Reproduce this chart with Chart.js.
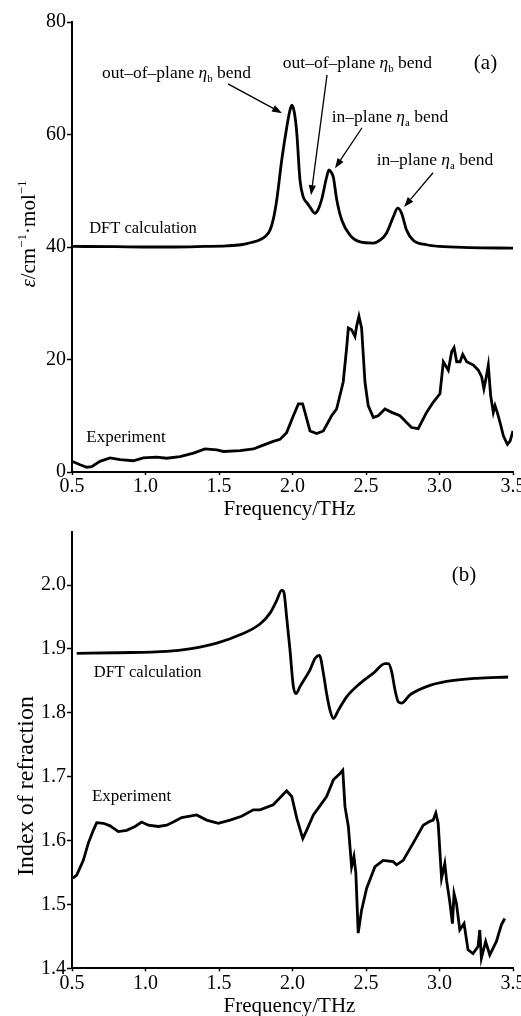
<!DOCTYPE html>
<html>
<head>
<meta charset="utf-8">
<script src="https://cdn.jsdelivr.net/npm/chart.js@4.4.1/dist/chart.umd.min.js"></script>
<style>
  html, body { margin: 0; padding: 0; background: #fff; }
  #wrap { position: relative; width: 521px; height: 1016px; overflow: hidden; }
  #absChart { position: absolute; left: 0; top: 0; }
  #refChart { position: absolute; left: 0; top: 522px; }
</style>
</head>
<body>
<div id="wrap">
  <canvas id="absChart" width="521" height="522"></canvas>
  <canvas id="refChart" width="521" height="494"></canvas>
</div>
<script>
// ---- data ----
// (a) absorption, DFT calculation (offset by +40)
const absDftX = [0.5, 0.8, 1.0, 1.2, 1.4, 1.55, 1.65, 1.72, 1.779, 1.82, 1.847, 1.87, 1.893, 1.927, 1.961, 1.98, 1.995, 2.012, 2.029, 2.051, 2.073, 2.1, 2.119, 2.153, 2.175, 2.198, 2.232, 2.248, 2.263, 2.278, 2.301, 2.335, 2.391, 2.46, 2.55, 2.6, 2.64, 2.685, 2.715, 2.742, 2.776, 2.821, 2.912, 3.0, 3.2, 3.5];
const absDftY = [40.1, 40.05, 40.0, 40.0, 40.1, 40.2, 40.4, 40.8, 41.3, 42.0, 43.0, 45.0, 48.4, 55.5, 61.3, 64.0, 65.2, 64.0, 60.3, 51.9, 48.9, 47.8, 47.1, 46.0, 46.7, 48.4, 52.4, 53.7, 53.3, 52.4, 48.4, 44.8, 42.1, 40.9, 40.7, 41.3, 42.5, 45.3, 46.9, 46.0, 43.0, 41.2, 40.4, 40.1, 39.9, 39.8];
// (a) absorption, experiment
const absExpX = [0.5, 0.555, 0.6, 0.634, 0.69, 0.759, 0.827, 0.917, 0.985, 1.076, 1.144, 1.235, 1.326, 1.405, 1.485, 1.53, 1.643, 1.734, 1.779, 1.869, 1.915, 1.96, 2.006, 2.04, 2.069, 2.085, 2.119, 2.164, 2.21, 2.266, 2.3, 2.345, 2.368, 2.38, 2.402, 2.425, 2.436, 2.452, 2.47, 2.493, 2.515, 2.55, 2.583, 2.629, 2.675, 2.731, 2.776, 2.81, 2.855, 2.912, 2.957, 3.003, 3.026, 3.06, 3.083, 3.099, 3.117, 3.14, 3.158, 3.185, 3.23, 3.264, 3.287, 3.302, 3.316, 3.332, 3.348, 3.366, 3.378, 3.393, 3.412, 3.435, 3.462, 3.48, 3.5];
const absExpY = [1.9, 1.3, 0.85, 0.95, 1.9, 2.5, 2.2, 2.0, 2.5, 2.65, 2.45, 2.75, 3.35, 4.1, 3.95, 3.65, 3.8, 4.1, 4.55, 5.45, 5.8, 7.0, 10.0, 12.1, 12.1, 10.6, 7.3, 6.85, 7.3, 10.0, 11.2, 16.0, 22.0, 25.6, 25.3, 24.1, 25.9, 27.7, 25.6, 16.0, 11.8, 9.7, 10.0, 11.2, 10.6, 10.0, 8.8, 7.9, 7.7, 10.6, 12.4, 13.9, 19.6, 18.1, 21.4, 22.1, 19.6, 19.6, 20.9, 19.6, 19.0, 18.1, 16.9, 14.8, 16.6, 19.0, 13.6, 10.6, 11.8, 10.6, 8.8, 6.4, 4.9, 5.5, 7.3];
// (b) refractive index, DFT calculation
const refDftX = [0.532, 0.8, 1.144, 1.3, 1.485, 1.643, 1.779, 1.847, 1.893, 1.927, 1.942, 1.96, 1.983, 2.006, 2.024, 2.051, 2.085, 2.119, 2.153, 2.183, 2.21, 2.232, 2.255, 2.278, 2.312, 2.368, 2.46, 2.55, 2.629, 2.652, 2.675, 2.697, 2.72, 2.742, 2.799, 2.912, 3.048, 3.252, 3.467];
const refDftY = [1.893, 1.894, 1.896, 1.9, 1.909, 1.922, 1.939, 1.956, 1.976, 1.992, 1.988, 1.95, 1.898, 1.841, 1.83, 1.841, 1.854, 1.867, 1.885, 1.89, 1.862, 1.83, 1.804, 1.791, 1.804, 1.825, 1.846, 1.862, 1.877, 1.877, 1.864, 1.836, 1.817, 1.815, 1.828, 1.841, 1.849, 1.854, 1.856];
// (b) refractive index, experiment
const refExpX = [0.505, 0.532, 0.577, 0.611, 0.645, 0.668, 0.713, 0.759, 0.815, 0.872, 0.929, 0.974, 1.019, 1.087, 1.144, 1.189, 1.246, 1.348, 1.416, 1.495, 1.575, 1.654, 1.733, 1.779, 1.869, 1.96, 1.995, 2.029, 2.07, 2.096, 2.142, 2.232, 2.278, 2.323, 2.342, 2.357, 2.38, 2.402, 2.418, 2.431, 2.447, 2.47, 2.504, 2.561, 2.617, 2.685, 2.708, 2.753, 2.821, 2.889, 2.934, 2.957, 2.975, 2.991, 3.014, 3.036, 3.048, 3.07, 3.088, 3.099, 3.115, 3.138, 3.167, 3.194, 3.228, 3.262, 3.274, 3.285, 3.314, 3.342, 3.387, 3.421, 3.444];
const refExpY = [1.541, 1.546, 1.569, 1.596, 1.616, 1.628, 1.627, 1.623, 1.614, 1.616, 1.622, 1.629, 1.624, 1.622, 1.624, 1.629, 1.636, 1.64, 1.632, 1.627, 1.632, 1.638, 1.648, 1.648, 1.656, 1.678, 1.669, 1.635, 1.603, 1.616, 1.64, 1.669, 1.695, 1.705, 1.71, 1.653, 1.622, 1.559, 1.575, 1.549, 1.455, 1.491, 1.525, 1.559, 1.569, 1.567, 1.562, 1.569, 1.596, 1.624, 1.63, 1.632, 1.643, 1.627, 1.541, 1.564, 1.538, 1.504, 1.47, 1.517, 1.502, 1.46, 1.47, 1.429, 1.423, 1.434, 1.46, 1.416, 1.442, 1.421, 1.442, 1.468, 1.478];

const freqTicks = [0.5, 1.0, 1.5, 2.0, 2.5, 3.0, 3.5];

const FONT = '"Liberation Serif", "Times New Roman", serif';
Chart.defaults.font.family = FONT;
Chart.defaults.color = '#000';

const pts = (xs, ys) => xs.map((x, i) => ({ x, y: ys[i] }));

// rich text: segments {t, it, sub, sup}
function richText(ctx, segs, x, y, size, align) {
  const fontOf = s => (s.it ? 'italic ' : '') + ((s.sub || s.sup) ? size * 0.62 : size) + 'px ' + FONT;
  let w = 0;
  segs.forEach(s => { ctx.font = fontOf(s); w += ctx.measureText(s.t).width; });
  let cx = align === 'center' ? x - w / 2 : x;
  const base = y + size * 0.33;
  ctx.textAlign = 'left';
  ctx.textBaseline = 'alphabetic';
  segs.forEach(s => {
    ctx.font = fontOf(s);
    let dy = 0;
    if (s.sub) dy = size * 0.22;
    if (s.sup) dy = -size * 0.42;
    ctx.fillText(s.t, cx, base + dy);
    cx += ctx.measureText(s.t).width;
  });
}

function arrow(ctx, x1, y1, x2, y2) {
  const a = Math.atan2(y2 - y1, x2 - x1), L = 10, W = 3.6;
  const c = Math.cos(a), s = Math.sin(a);
  ctx.beginPath();
  ctx.moveTo(x1, y1);
  ctx.lineTo(x2 - L * c, y2 - L * s);
  ctx.stroke();
  ctx.beginPath();
  ctx.moveTo(x2, y2);
  ctx.lineTo(x2 - L * c + W * s, y2 - L * s - W * c);
  ctx.lineTo(x2 - L * c - W * s, y2 - L * s + W * c);
  ctx.closePath();
  ctx.fill();
}

const ink = {
  id: 'ink',
  afterDraw(chart, args, o) {
    const { ctx, chartArea, scales } = chart;
    const X = scales.x, Y = scales.y;
    ctx.save();
    ctx.fillStyle = '#000';
    ctx.strokeStyle = '#000';
    ctx.lineWidth = 1.3;
    (o.arrows || []).forEach(a => arrow(ctx, X.getPixelForValue(a[0]), Y.getPixelForValue(a[1]), X.getPixelForValue(a[2]), Y.getPixelForValue(a[3])));
    (o.labels || []).forEach(l => richText(ctx, l.segs, X.getPixelForValue(l.x), Y.getPixelForValue(l.y), l.size, 'center'));
    // axis titles
    richText(ctx, o.xTitle, (chartArea.left + chartArea.right) / 2 - 3, chartArea.bottom + o.xTitleDy, o.titleSize, 'center');
    ctx.translate(o.yTitlePos[0], o.yTitlePos[1]);
    ctx.rotate(-Math.PI / 2);
    richText(ctx, o.yTitle, 0, 0, o.yTitleSize, 'center');
    ctx.restore();
  }
};

function axes(yMin, yMax, yStep, yDigits, xH) {
  return {
    x: {
      type: 'linear', min: 0.5, max: 3.5,
      afterBuildTicks: s => { s.ticks = freqTicks.map(v => ({ value: v })); },
      ticks: { font: { size: 20 }, padding: 0, maxRotation: 0, callback: v => v.toFixed(1) },
      grid: { drawOnChartArea: false, tickLength: 3, tickWidth: 1.5, tickColor: '#000' },
      border: { display: true, color: '#000', width: 2 },
      afterFit: s => { s.height = xH; s.paddingLeft = 0; s.paddingRight = 0; }
    },
    y: {
      type: 'linear', min: yMin, max: yMax,
      ticks: { stepSize: yStep, includeBounds: false, font: { size: 20 }, padding: 1, callback: v => v.toFixed(yDigits) },
      grid: { drawOnChartArea: false, tickLength: 5, tickWidth: 1.5, tickColor: '#000' },
      border: { display: true, color: '#000', width: 2 },
      afterFit: s => { s.width = 72; s.paddingTop = 0; s.paddingBottom = 0; }
    }
  };
}

const lineStyle = { borderColor: '#000', borderWidth: 2.8, pointRadius: 0, fill: false };
const xTitle = [{ t: 'Frequency/THz' }];

new Chart(document.getElementById('absChart'), {
  type: 'line',
  data: {
    datasets: [
      { ...lineStyle, data: pts(absDftX, absDftY), cubicInterpolationMode: 'monotone' },
      { ...lineStyle, data: pts(absExpX, absExpY), tension: 0 }
    ]
  },
  options: {
    responsive: false, animation: false, events: [],
    layout: { padding: { top: 22, right: 8, left: 0, bottom: 0 } },
    scales: axes(0, 80, 20, 0, 50),
    plugins: {
      legend: { display: false }, tooltip: { enabled: false },
      ink: {
        xTitle, xTitleDy: 36, titleSize: 21,
        yTitle: [{ t: 'ε', it: true }, { t: '/cm' }, { t: '−1', sup: true }, { t: '·mol' }, { t: '−1', sup: true }],
        yTitlePos: [28, 234], yTitleSize: 21,
        labels: [
          { x: 1.211, y: 71.1, size: 17.5, segs: [{ t: 'out–of–plane ' }, { t: 'η', it: true }, { t: 'b', sub: true }, { t: ' bend' }] },
          { x: 2.442, y: 72.9, size: 17.5, segs: [{ t: 'out–of–plane ' }, { t: 'η', it: true }, { t: 'b', sub: true }, { t: ' bend' }] },
          { x: 2.663, y: 63.3, size: 17.5, segs: [{ t: 'in–plane ' }, { t: 'η', it: true }, { t: 'a', sub: true }, { t: ' bend' }] },
          { x: 2.969, y: 55.6, size: 17.5, segs: [{ t: 'in–plane ' }, { t: 'η', it: true }, { t: 'a', sub: true }, { t: ' bend' }] },
          { x: 3.313, y: 72.9, size: 21, segs: [{ t: '(a)' }] },
          { x: 0.983, y: 43.4, size: 16.5, segs: [{ t: 'DFT calculation' }] },
          { x: 0.867, y: 6.4, size: 17, segs: [{ t: 'Experiment' }] }
        ],
        arrows: [
          [1.561, 69.0, 1.929, 63.8],
          [2.235, 70.6, 2.126, 49.2],
          [2.473, 61.2, 2.289, 54.0],
          [2.956, 53.2, 2.759, 47.1]
        ]
      }
    }
  },
  plugins: [ink]
});

new Chart(document.getElementById('refChart'), {
  type: 'line',
  data: {
    datasets: [
      { ...lineStyle, data: pts(refDftX, refDftY), cubicInterpolationMode: 'monotone' },
      { ...lineStyle, data: pts(refExpX, refExpY), tension: 0 }
    ]
  },
  options: {
    responsive: false, animation: false, events: [],
    layout: { padding: { top: 10, right: 8, left: 0, bottom: 0 } },
    scales: axes(1.4, 2.083, 0.1, 1, 47.7),
    plugins: {
      legend: { display: false }, tooltip: { enabled: false },
      ink: {
        xTitle, xTitleDy: 37, titleSize: 21,
        yTitle: [{ t: 'Index of refraction' }],
        yTitlePos: [25, 264], yTitleSize: 24,
        labels: [
          { x: 3.167, y: 2.017, size: 21, segs: [{ t: '(b)' }] },
          { x: 1.014, y: 1.864, size: 16.5, segs: [{ t: 'DFT calculation' }] },
          { x: 0.905, y: 1.671, size: 17, segs: [{ t: 'Experiment' }] }
        ]
      }
    }
  },
  plugins: [ink]
});
</script>
</body>
</html>
